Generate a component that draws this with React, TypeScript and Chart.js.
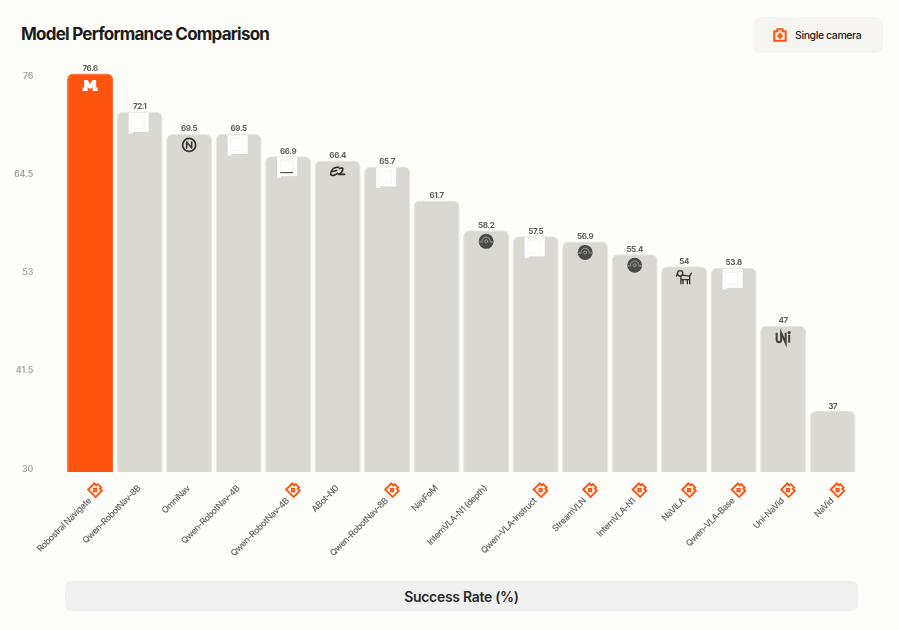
import React, { useEffect, useRef } from "react";
import { Chart, registerables } from "chart.js";

Chart.register(...registerables);

const models = ["Robostral Navigate", "Qwen-RobotNav-8B", "OmniNav", "Qwen-RobotNav-4B", "Qwen-RobotNav-4B", "ABot-N0", "Qwen-RobotNav-8B", "NavFoM", "InternVLA-N1 (depth)", "Qwen-VLA-Instruct", "StreamVLN", "InternVLA-N1", "NaVILA", "Qwen-VLA-Base", "Uni-NaVid", "NaVid"];
const successRate = [76.6, 72.1, 69.5, 69.5, 66.9, 66.4, 65.7, 61.7, 58.2, 57.5, 56.9, 55.4, 54, 53.8, 47, 37];
const singleCamera = [true, false, false, false, true, false, true, false, false, true, true, true, true, true, true, true];
const logos = ["mistral", "blank", "nlogo", "blank", "blankline", "ali", "blank", "", "disc", "blank", "disc", "disc", "dog", "blank", "uni", ""];
const yTicks = [30, 41.5, 53, 64.5, 76];

const ORANGE = "#FF5310";
const GREY = "#D9D9D1";
const FONT = "Inter, sans-serif";

function drawCamera(ctx: CanvasRenderingContext2D, cx: number, cy: number, s: number) {
  const u = s / 13;
  ctx.save();
  ctx.translate(cx, cy);
  ctx.scale(u, u);
  ctx.fillStyle = ORANGE;
  ctx.fillRect(-6.5, -4.5, 13, 11);
  ctx.fillRect(-3.5, -6.5, 7, 3);
  ctx.fillStyle = "#FDF3EC";
  ctx.fillRect(-4.5, -2.6, 9, 7.2);
  ctx.fillRect(-1.6, -4.6, 3.2, 2.5);
  ctx.fillStyle = ORANGE;
  ctx.beginPath();
  ctx.moveTo(0, -2.3);
  ctx.lineTo(3, 0.9);
  ctx.lineTo(0, 4);
  ctx.lineTo(-3, 0.9);
  ctx.closePath();
  ctx.fill();
  ctx.fillStyle = "#FDD9C6";
  ctx.fillRect(-0.5, 0.4, 1, 1);
  ctx.restore();
}

function drawLogo(ctx: CanvasRenderingContext2D, kind: string, x: number, top: number) {
  ctx.save();
  ctx.lineJoin = "round";
  ctx.lineCap = "round";
  if (kind === "mistral") {
    const y = top + 12;
    ctx.fillStyle = "#FFFFFF";
    ctx.beginPath();
    ctx.moveTo(x - 6, y - 5.5);
    ctx.lineTo(x - 2.5, y - 5.5);
    ctx.lineTo(x, y - 1.5);
    ctx.lineTo(x + 2.5, y - 5.5);
    ctx.lineTo(x + 6, y - 5.5);
    ctx.lineTo(x + 6, y + 2);
    ctx.lineTo(x + 7.5, y + 2);
    ctx.lineTo(x + 7.5, y + 5.5);
    ctx.lineTo(x + 2.5, y + 5.5);
    ctx.lineTo(x + 2.5, y + 1.5);
    ctx.lineTo(x + 1, y + 3);
    ctx.lineTo(x - 1, y + 3);
    ctx.lineTo(x - 2.5, y + 1.5);
    ctx.lineTo(x - 2.5, y + 5.5);
    ctx.lineTo(x - 7.5, y + 5.5);
    ctx.lineTo(x - 7.5, y + 2);
    ctx.lineTo(x - 6, y + 2);
    ctx.closePath();
    ctx.fill();
  } else if (kind === "blank" || kind === "blankline") {
    ctx.fillStyle = "#FFFFFF";
    ctx.fillRect(x - 11, top + 1, 20, 19);
    ctx.fillRect(x - 11, top + 20, 4, 1.5);
    ctx.strokeStyle = "#F4F4EF";
    ctx.lineWidth = 1;
    ctx.strokeRect(x - 7.5, top + 4.5, 12, 12);
    if (kind === "blankline") {
      ctx.strokeStyle = "#333333";
      ctx.lineCap = "butt";
      ctx.beginPath();
      ctx.moveTo(x - 8, top + 16.5);
      ctx.lineTo(x + 5, top + 16.5);
      ctx.stroke();
    }
  } else if (kind === "nlogo") {
    const y = top + 11;
    ctx.strokeStyle = "#333333";
    ctx.lineWidth = 1.7;
    ctx.beginPath();
    ctx.arc(x, y, 6.5, 0, Math.PI * 2);
    ctx.stroke();
    ctx.lineWidth = 1.5;
    ctx.beginPath();
    ctx.moveTo(x - 2.5, y + 3);
    ctx.lineTo(x - 2.5, y - 3);
    ctx.lineTo(x + 2.5, y + 3);
    ctx.lineTo(x + 2.5, y - 3);
    ctx.stroke();
  } else if (kind === "ali") {
    const y = top + 11;
    ctx.strokeStyle = "#2A2A2A";
    ctx.lineWidth = 1.6;
    ctx.beginPath();
    ctx.moveTo(x + 1, y - 4);
    ctx.bezierCurveTo(x - 4, y - 5, x - 7, y - 1, x - 7, y + 3);
    ctx.bezierCurveTo(x - 6, y + 5, x - 3, y + 4, x, y + 2);
    ctx.moveTo(x - 5, y);
    ctx.lineTo(x - 1, y - 1);
    ctx.moveTo(x + 2, y - 3);
    ctx.bezierCurveTo(x + 7, y - 5, x + 6, y, x + 1, y + 3);
    ctx.lineTo(x + 7, y + 3);
    ctx.stroke();
  } else if (kind === "disc") {
    const y = top + 11;
    ctx.fillStyle = "#4A4A48";
    ctx.beginPath();
    ctx.arc(x, y, 7.5, 0, Math.PI * 2);
    ctx.fill();
    ctx.strokeStyle = "#A8A8A2";
    ctx.lineWidth = 0.9;
    ctx.beginPath();
    ctx.arc(x, y, 1.5, 0, Math.PI * 2);
    ctx.stroke();
    ctx.beginPath();
    ctx.arc(x, y, 4.2, Math.PI * 1.05, Math.PI * 1.95);
    ctx.stroke();
    ctx.beginPath();
    ctx.moveTo(x - 7, y + 0.6);
    ctx.lineTo(x - 3.8, y + 0.6);
    ctx.moveTo(x + 3.8, y + 0.6);
    ctx.lineTo(x + 7, y + 0.6);
    ctx.stroke();
  } else if (kind === "dog") {
    const y = top + 11;
    ctx.strokeStyle = "#2E2E2E";
    ctx.fillStyle = "#2E2E2E";
    ctx.lineWidth = 1.3;
    ctx.beginPath();
    ctx.arc(x - 4, y - 3.8, 2.7, 0, Math.PI * 2);
    ctx.stroke();
    ctx.beginPath();
    ctx.moveTo(x - 6.8, y - 3.8);
    ctx.lineTo(x - 7.6, y - 1);
    ctx.moveTo(x - 2, y - 2);
    ctx.lineTo(x + 5.5, y - 1);
    ctx.lineTo(x + 7.2, y - 4);
    ctx.moveTo(x + 5.5, y - 1);
    ctx.lineTo(x + 5.5, y + 6.5);
    ctx.moveTo(x + 3.2, y + 2.5);
    ctx.lineTo(x + 3.2, y + 6.5);
    ctx.moveTo(x + 5.5, y + 2.5);
    ctx.lineTo(x - 2.5, y + 2.5);
    ctx.moveTo(x - 3.2, y - 1);
    ctx.lineTo(x - 3.2, y + 6.5);
    ctx.moveTo(x - 1.2, y + 2.5);
    ctx.lineTo(x - 1.2, y + 6.5);
    ctx.stroke();
  } else if (kind === "uni") {
    const y = top + 12;
    ctx.strokeStyle = "#40403E";
    ctx.lineWidth = 2;
    ctx.lineCap = "butt";
    ctx.lineJoin = "miter";
    ctx.beginPath();
    ctx.moveTo(x - 6.5, y - 5);
    ctx.lineTo(x - 6.5, y + 1.5);
    ctx.quadraticCurveTo(x - 6.5, y + 4.5, x - 4, y + 4.5);
    ctx.quadraticCurveTo(x - 2, y + 4.5, x - 2, y + 1.5);
    ctx.lineTo(x - 2, y - 5);
    ctx.lineTo(x + 2.5, y + 5);
    ctx.lineTo(x + 2.5, y - 5);
    ctx.moveTo(x + 6, y - 3);
    ctx.lineTo(x + 6, y + 5);
    ctx.stroke();
    ctx.fillStyle = "#40403E";
    ctx.beginPath();
    ctx.arc(x + 6, y - 5.3, 1.6, 0, Math.PI * 2);
    ctx.fill();
  }
  ctx.restore();
}

const overlay = {
  id: "overlay",
  afterDatasetsDraw(chart: any) {
    const ctx: any = chart.ctx;
    const meta = chart.getDatasetMeta(0);
    const xScale = chart.scales.x;
    drawCamera(ctx, 780, 35, 13.5);
    ctx.save();
    meta.data.forEach((bar: any, i: number) => {
      drawLogo(ctx, logos[i], bar.x, bar.y);
      ctx.fillStyle = "#5E5E5E";
      ctx.font = `700 8px ${FONT}`;
      ctx.letterSpacing = "-0.4px";
      ctx.textAlign = "center";
      ctx.textBaseline = "middle";
      ctx.fillText(String(successRate[i]), bar.x, bar.y - 5);
      const tx = xScale.getPixelForTick(i);
      const cam = singleCamera[i];
      ctx.save();
      ctx.translate(tx - 0.5, cam ? 499.5 : 487);
      ctx.rotate(-Math.PI / 4);
      ctx.fillStyle = "#5F5F5F";
      ctx.font = `500 8.8px ${FONT}`;
      ctx.letterSpacing = "-0.42px";
      ctx.textAlign = "right";
      ctx.fillText(models[i], 0, 0);
      ctx.restore();
      ctx.letterSpacing = "0px";
      if (cam) {
        ctx.save();
        ctx.translate(tx + 5.5, 489.5);
        ctx.rotate(Math.PI / 4);
        drawCamera(ctx, 0, 0, 12.5);
        ctx.restore();
      }
    });
    ctx.restore();
  },
};

export default function App() {
  const ref = useRef<HTMLCanvasElement>(null);
  useEffect(() => {
    const chart = new Chart(ref.current as HTMLCanvasElement, {
      type: "bar",
      data: {
        labels: models,
        datasets: [
          {
            label: "Success Rate (%)",
            data: successRate,
            base: 29.86,
            backgroundColor: successRate.map((_, i) => (i === 0 ? ORANGE : GREY)),
            borderColor: successRate.map((_, i) => (i === 0 ? ORANGE : "#E5E5DE")),
            borderWidth: 1,
            borderRadius: 6,
            barPercentage: 0.93,
            categoryPercentage: 1,
          },
        ],
      },
      options: {
        responsive: false,
        animation: false,
        layout: { padding: { top: 62, right: 41.6, bottom: 158, left: 0 } },
        plugins: { legend: { display: false }, tooltip: { enabled: false } },
        scales: {
          x: {
            grid: { display: false, drawTicks: false },
            border: { display: false },
            ticks: { display: false },
          },
          y: {
            min: 29.86,
            max: 77.94,
            grid: { display: false, drawTicks: false },
            border: { display: false },
            afterBuildTicks: (axis: any) => {
              axis.ticks = yTicks.map((value) => ({ value }));
            },
            afterFit: (axis: any) => {
              axis.width = 65.4;
            },
            ticks: {
              padding: 32,
              labelOffset: -2,
              color: "#999999",
              font: { family: FONT, size: 9, weight: 500 },
              callback: (v: any) => String(v),
            },
          },
        },
      },
      plugins: [overlay],
    } as any);
    return () => chart.destroy();
  }, []);

  const pill: React.CSSProperties = {
    position: "absolute",
    display: "flex",
    alignItems: "center",
    fontFamily: FONT,
    boxSizing: "border-box",
  };
  return (
    <div style={{ position: "fixed", left: 0, top: 0, width: 899, height: 630, background: "#FDFDF9", overflow: "hidden" }}>
      <div style={{ ...pill, left: 21, top: 22.5, height: 22, fontSize: 17, fontWeight: 700, color: "#1C1C1C", letterSpacing: "-0.76px" }}>
        Model Performance Comparison
      </div>
      <div style={{ ...pill, left: 753, top: 17, width: 130, height: 36, background: "#F6F5F2", borderRadius: 8, paddingLeft: 42, fontSize: 10.5, fontWeight: 500, color: "#222222", letterSpacing: "-0.4px" }}>
        Single camera
      </div>
      <div style={{ ...pill, left: 65, top: 581, width: 793, height: 30, background: "#F0F0F0", borderRadius: 6, justifyContent: "center", fontSize: 14, fontWeight: 600, color: "#2A2A2A", letterSpacing: "-0.3px" }}>
        Success Rate (%)
      </div>
      <canvas ref={ref} width={899} height={630} style={{ position: "absolute", left: 0, top: 0, display: "block" }} />
    </div>
  );
}
